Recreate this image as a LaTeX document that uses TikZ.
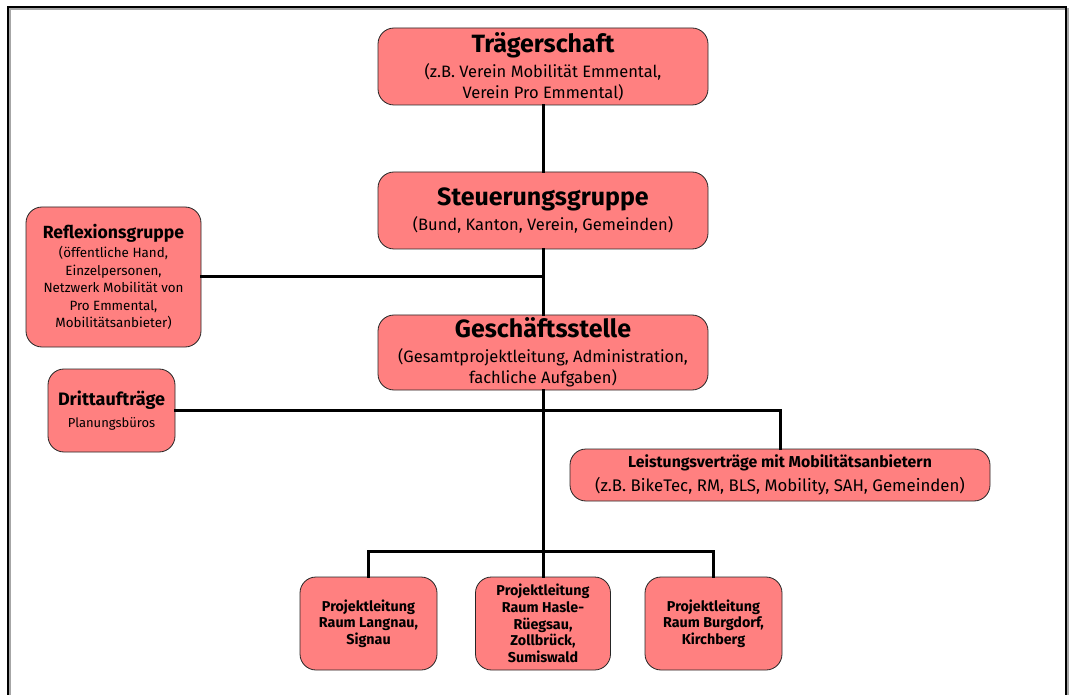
\documentclass[tikz,border=0pt]{standalone}
\usepackage{fontspec}
\setmainfont{Fira Sans}
\begin{document}
\begin{tikzpicture}[x=1pt,y=-1pt,
  orgbox/.style={draw=black!85, line width=0.8pt, fill=boxred, rounded corners=16pt,
    align=center, inner sep=0pt, font=\subfont},
  link/.style={line width=3pt, line cap=rect},
]
\definecolor{boxred}{HTML}{FF8080}
\newcommand{\headfont}{\fontsize{25}{28}\bfseries\selectfont}
\newcommand{\subfont}{\fontsize{16.5}{20.5}\selectfont}
\newcommand{\sidehead}{\fontsize{17.6}{19}\bfseries\selectfont}
\newcommand{\sidefont}{\fontsize{13.4}{17.5}\selectfont}
\newcommand{\dritthead}{\fontsize{18}{20}\bfseries\selectfont}
\newcommand{\drittfont}{\fontsize{13}{17.5}\selectfont}
\newcommand{\leisthead}{\fontsize{15.8}{20}\bfseries\selectfont}
\newcommand{\leistfont}{\fontsize{16.8}{20.5}\selectfont}
\newcommand{\plfont}{\fontsize{14.3}{16.7}\bfseries\selectfont}

\useasboundingbox (0,0) rectangle (1069,695);
\fill[white] (0,0) rectangle (1069,695);

% outer frame, open at the bottom
\draw[black!35, line width=1.5pt] (10,695) -- (10,9) -- (1068,9) -- (1068,695);
\draw[black, line width=2pt] (8,695) -- (8,7) -- (1066,7) -- (1066,695);

% boxes
\node[orgbox, minimum width=330, minimum height=77] (traeger) at (543,66.5)
  {{\headfont Trägerschaft}\\[4.5pt](z.B. Verein Mobilität Emmental,\\Verein Pro Emmental)};
\node[orgbox, minimum width=330, minimum height=77] (steuer) at (543,210.5)
  {{\headfont Steuerungsgruppe}\\[4.5pt](Bund, Kanton, Verein, Gemeinden)};
\node[orgbox, minimum width=330, minimum height=75] (gs) at (543,352.5)
  {{\headfont Geschäftsstelle}\\[4.5pt](Gesamtprojektleitung, Administration,\\fachliche Aufgaben)};
\node[orgbox, minimum width=175, minimum height=140, font=\sidefont] (reflex) at (113.5,277)
  {{\sidehead Reflexionsgruppe}\\[1.5pt](öffentliche Hand,\\Einzelpersonen,\\Netzwerk Mobilität von\\Pro Emmental,\\Mobilitätsanbieter)};
\node[orgbox, minimum width=127, minimum height=83, font=\drittfont] (dritt) at (111.5,410.5)
  {{\dritthead Drittaufträge}\\[4pt]Planungsbüros};
\node[orgbox, minimum width=420, minimum height=52, font=\leistfont] (leist) at (780,475)
  {{\leisthead Leistungsverträge mit Mobilitätsanbietern}\\[4pt](z.B. BikeTec, RM, BLS, Mobility, SAH, Gemeinden)};
\node[orgbox, minimum width=137, minimum height=93, font=\plfont] (pl1) at (368.5,623.5)
  {Projektleitung\\Raum Langnau,\\Signau};
\node[orgbox, minimum width=135, minimum height=93, font=\plfont] (pl2) at (543,623.5)
  {Projektleitung\\Raum Hasle-\\Rüegsau,\\Zollbrück,\\Sumiswald};
\node[orgbox, minimum width=137, minimum height=93, font=\plfont] (pl3) at (713.5,623.5)
  {Projektleitung\\Raum Burgdorf,\\Kirchberg};

% connectors
\coordinate (bus) at (543,551);
\draw[link] (traeger.south) -- (steuer.north);
\draw[link] (steuer.south) -- (gs.north);
\draw[link] (reflex.east) -- (reflex.east -| gs.north);
\draw[link] (gs.south) -- (bus) -- (pl2.north);
\draw[link] (dritt.east) -| (leist.north);
\draw[link] (pl1.north) |- (bus) -| (pl3.north);
\end{tikzpicture}
\end{document}
